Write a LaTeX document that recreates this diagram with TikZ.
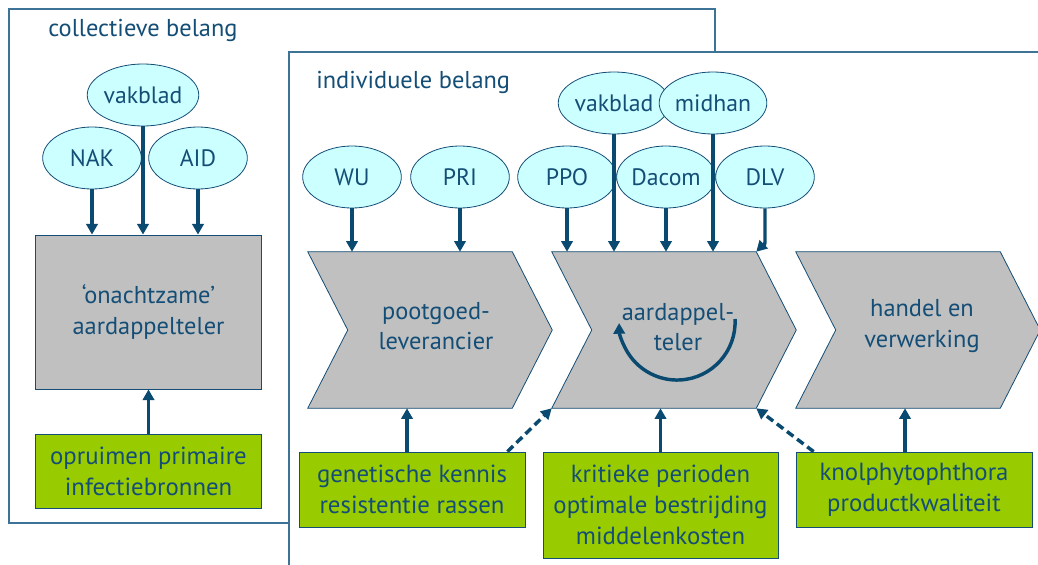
\documentclass[tikz,border=0pt]{standalone}
\usepackage{fontspec}
\setmainfont{PT Sans}
\usetikzlibrary{arrows.meta,calc,shapes.geometric}
\definecolor{tb}{RGB}{20,78,118}
\definecolor{ab}{RGB}{10,74,112}
\definecolor{fr}{RGB}{60,115,150}
\definecolor{cy}{RGB}{204,255,255}
\definecolor{gr}{RGB}{192,192,192}
\definecolor{gn}{RGB}{153,204,0}
\begin{document}
\begin{tikzpicture}[x=0.75pt,y=-0.75pt,
  txt/.style={text=tb, font=\fontsize{18.3}{23}\selectfont, align=center, inner sep=0pt},
  ell/.style={txt, font=\fontsize{17.8}{23}\selectfont, ellipse, draw=tb, fill=cy, line width=0.6pt, minimum width=74pt, minimum height=46.5pt},
  graybox/.style={txt, rectangle, draw=tb, fill=gr, line width=0.6pt, minimum width=170pt, minimum height=115.5pt},
  greenbox/.style={txt, font=\fontsize{18.6}{23}\selectfont, rectangle, draw=tb, fill=gn, line width=0.6pt},
  body/.style={rectangle, minimum width=153pt, minimum height=117pt, inner sep=0pt},
  chev/.style={draw=tb, fill=gr, line width=0.6pt},
  arr/.style={draw=ab, line width=2.6pt, -{Triangle[width=8.5pt,length=8pt]}},
  darr/.style={arr, dash pattern=on 6pt off 3.5pt},
  frame/.style={draw=fr, line width=0.8pt, fill=white},
  heading/.style={text=tb, font=\fontsize{18.3}{23}\selectfont, anchor=west, inner sep=0pt}]
\useasboundingbox (0,0) rectangle (1038,564);
\clip (0,0) rectangle (1038,564);
% frames
\draw[frame] (9,9) rectangle (715,523);
\draw[frame] (289,52) rectangle (1050,580);
\node[heading] (hcol) at (48,30) {collectieve belang};
\node[heading] (hind) at (316,82) {individuele belang};
% left group
\node[ell] (vb1) at (143,95) {vakblad};
\node[ell] (nak) at (92,158) {NAK};
\node[ell] (aid) at (198,158) {AID};
\node[graybox] (onacht) at (148.5,312) {‘onachtzame’\\aardappelteler};
\node[greenbox, minimum width=170pt, minimum height=56pt] (opr) at (148.5,471.5) {opruimen primaire\\infectiebronnen};
\draw[arr] (nak.south) -- (nak.south |- onacht.north);
\draw[arr] (vb1.south) -- (vb1.south |- onacht.north);
\draw[arr] (aid.south) -- (aid.south |- onacht.north);
\draw[arr] (opr.north) -- (opr.north |- onacht.south);
% right group ellipses
\node[ell] (vb2) at (614,103) {vakblad};
\node[ell] (mid) at (713,103) {midhan};
\node[ell] (wu) at (352,177) {WU};
\node[ell] (pri) at (460,177) {PRI};
\node[ell] (ppo) at (567,177) {PPO};
\node[ell] (dac) at (666,177) {Dacom};
\node[ell] (dlv) at (765,177) {DLV};
% chevrons
\node[body] (c1) at (410,330) {};
\node[body] (c2) at (654,330) {};
\node[body] (c3) at (898,330) {};
\foreach \c in {c1,c2,c3}{
  \draw[chev] (\c.north west) -- (\c.north east) -- ($(\c.east)+(40,0)$) -- (\c.south east) -- (\c.south west) -- ($(\c.west)+(40,0)$) -- cycle;
}
\node[txt] (t1) at (436,326) {pootgoed-\\leverancier};
\node[txt] (t2) at (678,327) {aardappel-\\teler};
\node[txt] (t3) at (922,326) {handel en\\verwerking};
% green boxes
\node[greenbox, minimum width=169.5pt, minimum height=56.25pt] (g1) at (412,489.5) {genetische kennis\\resistentie rassen};
\node[greenbox, minimum width=176.25pt, minimum height=79.5pt] (g2) at (660.5,505) {kritieke perioden\\optimale bestrijding\\middelenkosten};
\node[greenbox, minimum width=177pt, minimum height=56.25pt] (g3) at (914,489.5) {knolphytophthora\\productkwaliteit};
% arrows down
\draw[arr] (wu.south) -- (wu.south |- c1.north);
\draw[arr] (pri.south) -- (pri.south |- c1.north);
\draw[arr] (ppo.south) -- (ppo.south |- c2.north);
\draw[arr] (vb2.south) -- (vb2.south |- c2.north);
\draw[arr] (dac.south) -- (dac.south |- c2.north);
\draw[arr] (mid.south) -- (mid.south |- c2.north);
\draw[arr] (dlv.south) -- ++(0,34) .. controls +(0,5) and +(4,-4) .. (c2.north east);
% circular arrow
\draw[arr] ($(t2.center)+(57,-8)$) arc[start angle=-3, end angle=179, radius=58];
% arrows up
\draw[arr] ([xshift=-3.75pt]g1.north) -- ([xshift=-3.75pt]g1.north |- c1.south);
\draw[arr] (g2.north) -- (g2.north |- c2.south);
\draw[arr] ([xshift=-6.75pt]g3.north) -- ([xshift=-6.75pt]g3.north |- c3.south);
\draw[darr] ([xshift=-13.5pt]g1.north east) -- (c2.south west);
\draw[darr] ([xshift=13.5pt]g3.north west) -- (c2.south east);
\end{tikzpicture}
\end{document}
